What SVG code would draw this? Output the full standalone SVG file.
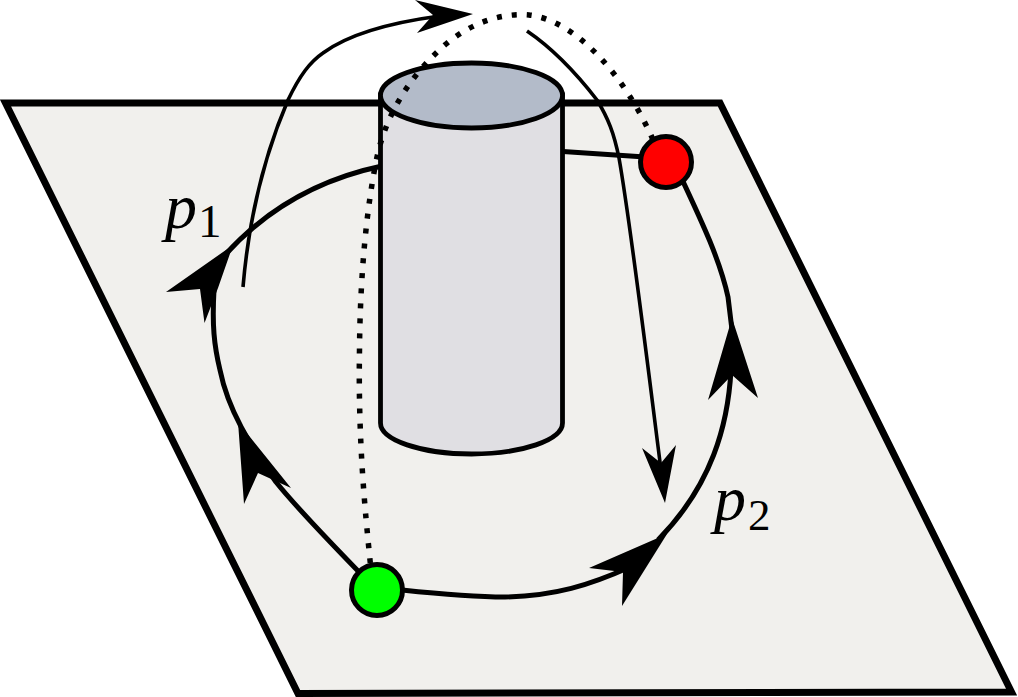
<svg xmlns="http://www.w3.org/2000/svg" width="1018" height="697" viewBox="0 0 1018 697">
<style>
.thick{fill:none;stroke:#000;stroke-width:5}
.thin{fill:none;stroke:#000;stroke-width:3.6}
.dots{fill:none;stroke:#000;stroke-width:5.500;stroke-dasharray:5 10}
.head{fill:#000;stroke:none}
.node{stroke:#000;stroke-width:5}
.math{font-family:"Liberation Serif","Times New Roman",serif;fill:#000}
</style>
<rect width="1018" height="697" fill="#fff"/>
<g id="plane"><path d="M5.500 103H720L1011.500 692L298 693.500Z" fill="#f1f0ed" stroke="#000" stroke-width="7"/></g>
<g id="paths-behind">
<path class="thick" d="M360 573C325 537 296 507 276 482C250 445 228 410 220 370C214 345 212 325 214 290"/>
<path class="thick" d="M225 255C270 205 325 178 382 166"/>
<path class="thick" d="M563 151.500L645 157"/>
<path class="thick" d="M680 175C702 222 720 260 728 297L732 330"/>
<path class="thick" d="M731 370C728 425 712 485 658 540"/>
<path class="thick" d="M630 567C590 585 555 596 505 597C470 597 440 594 402 590"/>
<path class="head" d="M238 422L291 488L258 473L244 504Z"/>
<path class="head" d="M233 245L218 288L204.500 323L200 289L166 292Z"/>
<path class="head" d="M732 318L758 398L732 375L708 400Z"/>
<path class="head" d="M667 534L622 606L623 572L589 568Z"/>
</g>
<g id="cylinder">
<path d="M380.500 95V423C380.500 440 421 454 471.500 454S562.500 440 562.500 423V95Z" fill="#e0dfe3" stroke="#000" stroke-width="4.800"/>
<ellipse cx="471.500" cy="95.500" rx="91" ry="32.500" fill="#b3bbc9" stroke="#000" stroke-width="4.800"/>
</g>
<g id="connectors">
<path class="thin" d="M243 287C247 240 258 170 288 100C300 75 310 62 323 53C350 33 395 22 440 16"/>
<path class="head" d="M473 14L415 0L433 15L417 33Z"/>
<path class="thin" d="M527 31C555 50 580 78 597 100C608 118 614 133 619 158C630 220 642 320 661 470"/>
<path class="head" d="M665 503L642 448L661 463L676 445Z"/>
<path class="dots" d="M370.300 563C365 510 358 440 359.500 350C360 280 366 210 377 157C386 115 410 75 446 44C475 20 505 13 529 15C575 20 625 75 654 142"/>
</g>
<g id="start"><circle class="node" cx="377" cy="590" r="25.500" fill="#00ff00"/></g>
<g id="goal"><circle class="node" cx="666" cy="162" r="25.500" fill="#ff0000"/></g>
<g id="label-p1"><text class="math" x="165" y="228" font-size="64" font-style="italic">p</text><text class="math" x="198" y="237" font-size="47">1</text></g>
<g id="label-p2"><text class="math" x="714" y="520" font-size="64" font-style="italic">p</text><text class="math" x="748" y="530" font-size="45">2</text></g>
</svg>
